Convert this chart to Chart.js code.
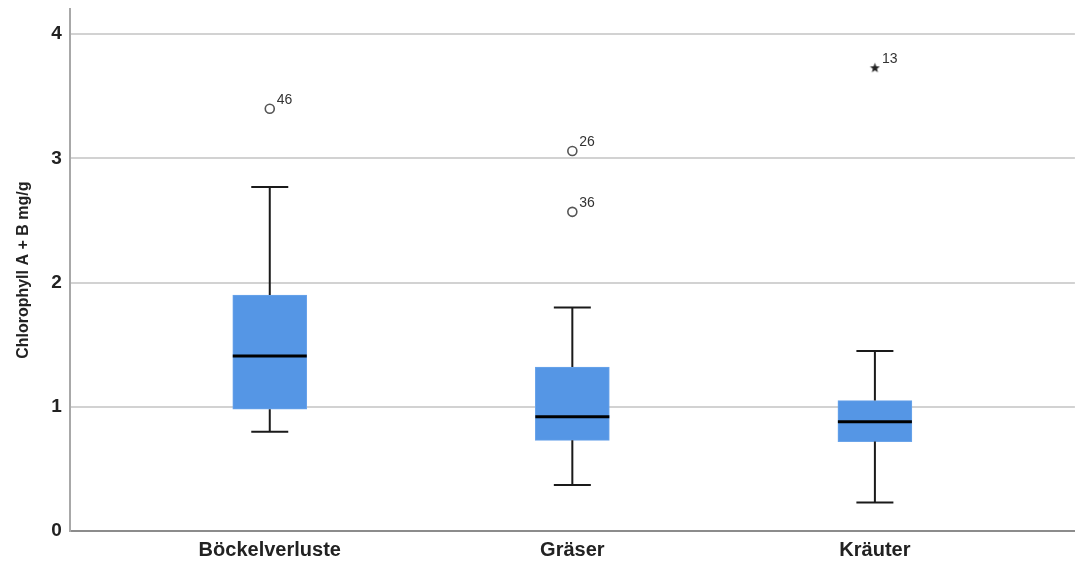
<!DOCTYPE html>
<html>
<head>
<meta charset="utf-8">
<script src="https://cdn.jsdelivr.net/npm/chart.js@4.4.1/dist/chart.umd.min.js"></script>
<style>
  html, body { margin: 0; padding: 0; background: #ffffff; overflow: hidden; }
  /* canvas is a bit larger than the window so the plot reaches the top/right edges */
  #wrap { position: relative; top: -10px; width: 1081px; height: 581px; }
</style>
</head>
<body>
<div id="wrap"><canvas id="boxChart"></canvas></div>
<script>
/* ─── Data ─────────────────────────────────────── */
const categories = ['Böckelverluste', 'Gräser', 'Kräuter'];
const whiskerLow  = [0.80, 0.37, 0.23];
const quartile1   = [0.98, 0.73, 0.72];
const medians     = [1.41, 0.92, 0.88];
const quartile3   = [1.90, 1.32, 1.05];
const whiskerHigh = [2.77, 1.80, 1.45];

// outliers: group index (1-based), value, case label
const outlierGroup = [1, 2, 2];
const outlierValue = [3.40, 3.06, 2.57];
const outlierLabel = ['46', '26', '36'];
const extremeGroup = [3];
const extremeValue = [3.73];
const extremeLabel = ['13'];

/* ─── Defaults ─────────────────────────────────── */
Chart.defaults.font.family = "Arial, 'Liberation Sans', sans-serif";
Chart.defaults.color = '#222222';

/* ─── Small five-point star for extreme values ─── */
const starIcon = (function () {
  const cv = document.createElement('canvas');
  cv.width = 11; cv.height = 11;
  const c = cv.getContext('2d');
  c.fillStyle = '#222222';
  c.beginPath();
  for (let k = 0; k < 10; k++) {
    const r = k % 2 ? 2.2 : 5.2;
    const a = -Math.PI / 2 + k * Math.PI / 5;
    c.lineTo(5.5 + r * Math.cos(a), 5.8 + r * Math.sin(a));
  }
  c.closePath();
  c.fill();
  return cv;
})();

/* ─── Whiskers, medians, case labels ───────────── */
const boxExtras = {
  id: 'boxExtras',
  beforeDraw(chart) {
    const c = chart.ctx;
    c.save();
    c.fillStyle = '#ffffff';
    c.fillRect(0, 0, chart.width, chart.height);
    c.restore();
  },
  afterDatasetsDraw(chart) {
    const { ctx: c, scales: { x, y } } = chart;
    const boxHalf = 37, capHalf = 18.5;
    c.save();
    categories.forEach((_, i) => {
      const cx = x.getPixelForValue(i + 1);
      c.strokeStyle = '#1a1a1a';
      c.lineWidth = 2;
      c.beginPath();
      // lower whisker
      c.moveTo(cx, y.getPixelForValue(quartile1[i]));
      c.lineTo(cx, y.getPixelForValue(whiskerLow[i]));
      c.moveTo(cx - capHalf, y.getPixelForValue(whiskerLow[i]));
      c.lineTo(cx + capHalf, y.getPixelForValue(whiskerLow[i]));
      // upper whisker
      c.moveTo(cx, y.getPixelForValue(quartile3[i]));
      c.lineTo(cx, y.getPixelForValue(whiskerHigh[i]));
      c.moveTo(cx - capHalf, y.getPixelForValue(whiskerHigh[i]));
      c.lineTo(cx + capHalf, y.getPixelForValue(whiskerHigh[i]));
      c.stroke();
      // median
      c.strokeStyle = '#000000';
      c.lineWidth = 3;
      c.beginPath();
      c.moveTo(cx - boxHalf, y.getPixelForValue(medians[i]));
      c.lineTo(cx + boxHalf, y.getPixelForValue(medians[i]));
      c.stroke();
    });
    // case numbers next to outliers
    c.fillStyle = '#333333';
    c.font = "14px Arial, 'Liberation Sans', sans-serif";
    c.textAlign = 'left';
    c.textBaseline = 'bottom';
    const label = (g, v, t) => {
      c.fillText(t, x.getPixelForValue(g) + 7, y.getPixelForValue(v) - 2);
    };
    outlierGroup.forEach((g, i) => label(g, outlierValue[i], outlierLabel[i]));
    extremeGroup.forEach((g, i) => label(g, extremeValue[i], extremeLabel[i]));
    c.restore();
  }
};

/* ─── Chart ────────────────────────────────────── */
new Chart(document.getElementById('boxChart'), {
  type: 'bar',
  data: {
    datasets: [
      {
        label: 'Box',
        data: categories.map((_, i) => ({ x: i + 1, y: [quartile1[i], quartile3[i]] })),
        backgroundColor: '#5596E5',
        borderColor: '#6aa4ea',
        borderWidth: 1,
        borderSkipped: false,
        barThickness: 74,
        grouped: false,
        order: 2
      },
      {
        type: 'scatter',
        label: 'Ausreißer',
        data: outlierGroup.map((g, i) => ({ x: g, y: outlierValue[i] })),
        pointStyle: 'circle',
        pointRadius: 4.5,
        pointBackgroundColor: '#ffffff',
        pointBorderColor: '#555555',
        pointBorderWidth: 1.6,
        order: 1
      },
      {
        type: 'scatter',
        label: 'Extremwerte',
        data: extremeGroup.map((g, i) => ({ x: g, y: extremeValue[i] })),
        pointStyle: starIcon,
        pointRadius: 5,
        order: 1
      }
    ]
  },
  options: {
    responsive: true,
    maintainAspectRatio: false,
    animation: false,
    layout: { padding: { top: 0, right: 0, bottom: 2, left: 14 } },
    plugins: {
      legend:  { display: false },
      tooltip: { enabled: false }
    },
    scales: {
      x: {
        type: 'linear',
        offset: false,
        min: 0.339,
        max: 3.661,
        afterBuildTicks: s => { s.ticks = categories.map((_, i) => ({ value: i + 1 })); },
        ticks: {
          callback: v => categories[v - 1] || '',
          font: { size: 20, weight: 'bold' },
          color: '#222222',
          padding: 7,
          maxRotation: 0
        },
        grid:   { display: false, drawTicks: false },
        border: { display: true, color: '#8c8c8c', width: 2 }
      },
      y: {
        min: 0,
        max: 4.2,
        ticks: {
          stepSize: 1,
          callback: v => Number.isInteger(v) ? v : '',
          font: { size: 19, weight: 'bold' },
          color: '#222222',
          padding: 8
        },
        title: {
          display: true,
          text: 'Chlorophyll A + B mg/g',
          font: { size: 16, weight: 'bold' },
          color: '#222222',
          padding: { top: 0, bottom: 10 }
        },
        grid: {
          color: c => Number.isInteger(c.tick.value) ? '#d2d2d2' : 'rgba(0,0,0,0)',
          lineWidth: 2,
          drawTicks: false
        },
        border: { display: true, color: '#a8a8a8', width: 2 }
      }
    }
  },
  plugins: [boxExtras]
});
</script>
</body>
</html>
